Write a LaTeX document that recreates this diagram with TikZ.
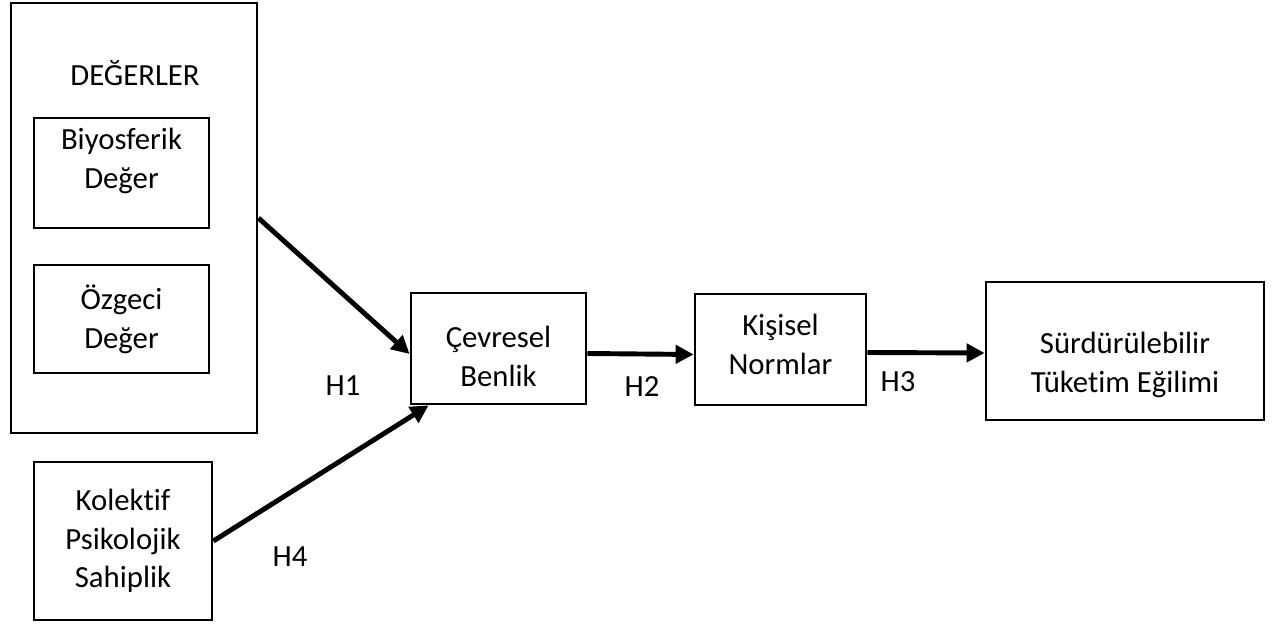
\documentclass[tikz,border=0pt]{standalone}
\usepackage{fontspec}
\setmainfont[Ligatures=NoCommon]{Carlito}
\usetikzlibrary{arrows.meta,positioning,calc}
\tikzset{
    box/.style={draw, line width=1.6pt, rectangle, align=center, inner sep=2pt,
        font=\fontsize{17.5}{22}\selectfont},
    hlbl/.style={font=\fontsize{17.5}{22}\selectfont, inner sep=1pt},
    path/.style={line width=2.8pt, -{Triangle[length=0.36cm,width=0.36cm]}}
}
\begin{document}
\begin{tikzpicture}[x=0.02cm, y=-0.02cm]
    \useasboundingbox (0,0) rectangle (1272,631);
    % values block
    \node[box, minimum width=4.92cm, minimum height=8.6cm] (degerler) at (134,218) {};
    \node[hlbl] (degerlerlbl) at (135,73) {DEĞERLER};
    \node[box, minimum width=3.5cm, minimum height=2.2cm, text depth=0.58cm] (biyo) at (121.5,173) {Biyosferik\\Değer};
    \node[box, minimum width=3.5cm, minimum height=2.16cm] (ozgeci) at (121.5,319) {Özgeci\\Değer};
    \node[box, minimum width=3.56cm, minimum height=3.16cm] (kolektif) at (123,541) {Kolektif\\Psikolojik\\Sahiplik};
    % chain
    \node[box, minimum width=3.5cm, minimum height=2.22cm, text height=1.51cm] (cevre) at (498.5,348.5) {Çevresel\\Benlik};
    \node[box, minimum width=3.42cm, minimum height=2.22cm, text depth=0.2cm] (kisisel) at (780.5,349.5) {Kişisel\\Normlar};
    \node[box, minimum width=5.56cm, minimum height=2.76cm, text height=1.75cm] (surd) at (1125,351) {Sürdürülebilir\\Tüketim Eğilimi};
    % hypotheses
    \draw[path] (degerler.east) -- ([yshift=-0.11cm]cevre.west);
    \draw[path] (kolektif.east) -- ([xshift=0.38cm]cevre.south west);
    \draw[path] ([yshift=-0.1cm]cevre.east) -- ([yshift=-0.1cm]kisisel.west);
    \draw[path] ([yshift=-0.06cm]kisisel.east) -- ([yshift=-0.04cm]surd.west);
    \node[hlbl] (h1) at (343,386) {H1};
    \node[hlbl] (h2) at (642,387) {H2};
    \node[hlbl] (h3) at (898,382) {H3};
    \node[hlbl] (h4) at (290,557) {H4};
\end{tikzpicture}
\end{document}
